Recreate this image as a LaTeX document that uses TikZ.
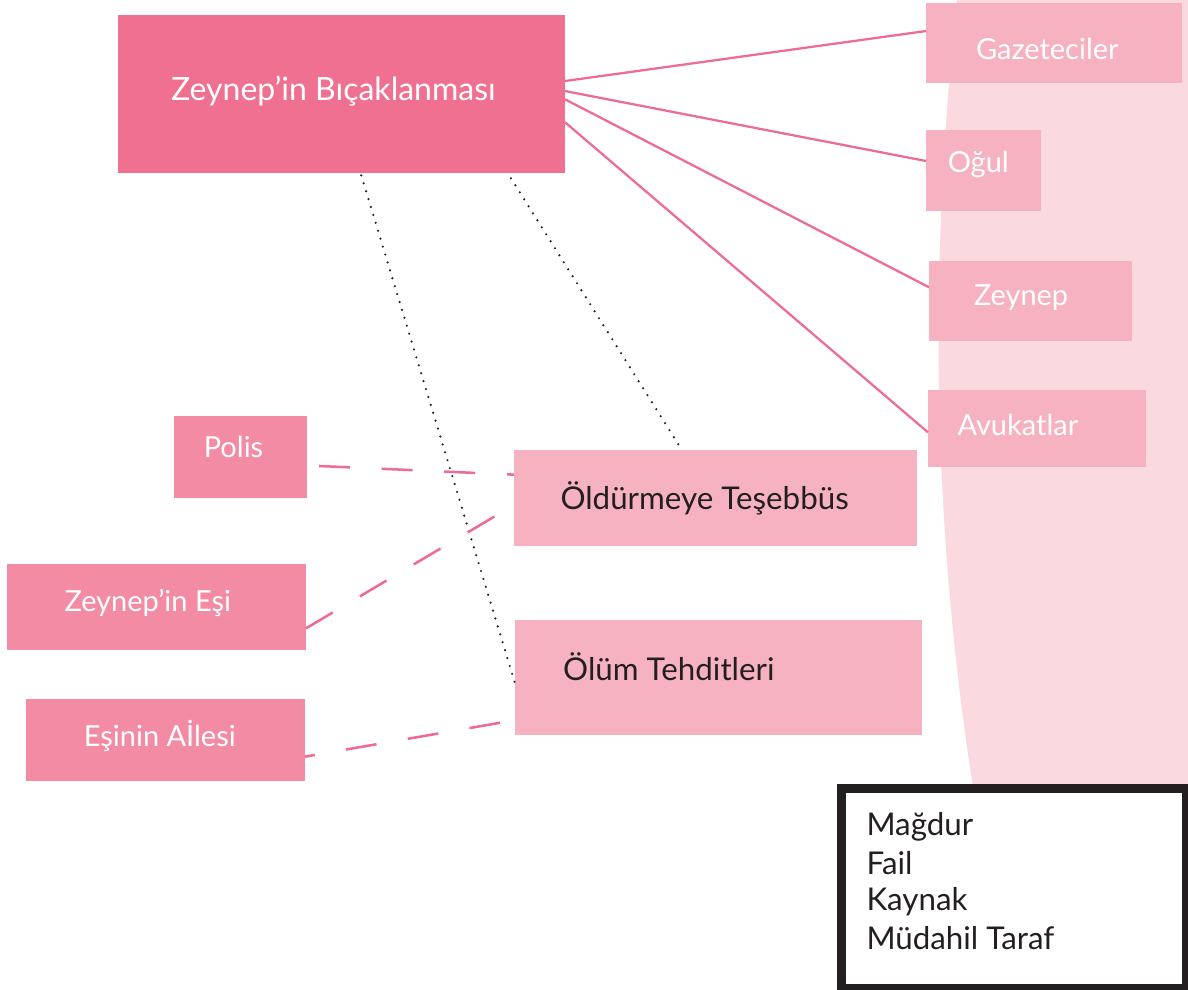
\documentclass[tikz,border=0pt]{standalone}
\usepackage{fontspec}
\setmainfont{Lato}

\definecolor{mainpink}{RGB}{240,112,146}
\definecolor{softpink}{RGB}{246,178,193}
\definecolor{rosepink}{RGB}{242,139,163}
\definecolor{palepink}{RGB}{250,217,223}
\definecolor{linkpink}{RGB}{238,108,148}
\definecolor{inkgray}{RGB}{35,31,32}

\tikzset{every picture/.style={line width=0.75pt}}
\tikzset{
	card/.style={inner sep=0pt, outer sep=0pt},
	whitetxt/.style={anchor=base west, inner sep=0pt, text=white, font=\fontsize{21.75}{26}\selectfont},
	darktxt/.style={anchor=base west, inner sep=0pt, text=inkgray, font=\fontsize{23.5}{28}\selectfont},
	link/.style={draw=linkpink, line width=1.7pt},
	dashlink/.style={draw=linkpink, line width=1.9pt, dash pattern=on 23.3pt off 23.7pt},
	dotlink/.style={draw=inkgray, line width=1.8pt, line cap=round, dash pattern=on 0pt off 6.2pt},
}

\begin{document}
\begin{tikzpicture}[x=0.75pt,y=0.75pt,yscale=-1]
			\useasboundingbox (0,0) rectangle (1188,989);
			% background
			\fill[palepink] (957,0) .. controls (930,250) and (930,520) .. (975,800) -- (1188,800) -- (1188,0) -- cycle;
			% event
			\node[card, fill=mainpink, minimum width=335.25pt, minimum height=118.3pt] (stab) at (341.5,93.85) {};
			\node[whitetxt, font=\fontsize{24}{28}\selectfont] (stabtxt) at (170.7,100.7) {Zeynep’in Bıçaklanması};
			% right side
			\node[card, fill=softpink, minimum width=191.8pt, minimum height=60pt] (press) at (1053.85,43.3) {};
			\node[whitetxt] (presstxt) at (975.5,59.3) {Gazeteciler};
			\node[card, fill=softpink, minimum width=86pt, minimum height=60.5pt] (son) at (983.35,170.35) {};
			\node[whitetxt] (sontxt) at (947.3,172.7) {Oğul};
			\node[card, fill=softpink, minimum width=152pt, minimum height=59.8pt] (zey) at (1030.35,300.85) {};
			\node[whitetxt] (zeytxt) at (973.3,305) {Zeynep};
			\node[card, fill=softpink, minimum width=163.5pt, minimum height=57.5pt] (lawyers) at (1037,428.35) {};
			\node[whitetxt] (lawyerstxt) at (957,435) {Avukatlar};
			% left side
			\node[card, fill=rosepink, minimum width=99.75pt, minimum height=61.3pt] (police) at (240.5,456.85) {};
			\node[whitetxt] (policetxt) at (203.3,457.3) {Polis};
			\node[card, fill=rosepink, minimum width=224pt, minimum height=64.5pt] (spouse) at (156.65,607) {};
			\node[whitetxt] (spousetxt) at (64,611) {Zeynep’in Eşi};
			\node[card, fill=rosepink, minimum width=209.25pt, minimum height=61.3pt] (family) at (165.5,739.85) {};
			\node[whitetxt] (familytxt) at (83.3,746.7) {Eşinin Aİlesi};
			% middle
			\node[card, fill=softpink, minimum width=302.25pt, minimum height=71.8pt] (attempt) at (715.5,497.85) {};
			\node[darktxt] (attempttxt) at (560,509.3) {Öldürmeye Teşebbüs};
			\node[card, fill=softpink, minimum width=305.25pt, minimum height=85.8pt] (threat) at (718.5,677.5) {};
			\node[darktxt] (threattxt) at (562.7,680) {Ölüm Tehditleri};
			% connectors (yshift runs downwards here)
			\draw[link] ([yshift=-9.6pt]stab.east) -- ([yshift=-9.2pt]press.west);
			\draw[link] ([yshift=-2.1pt]stab.east) -- ([yshift=-7pt]son.west);
			\draw[link] ([yshift=4.1pt]stab.east) -- ([yshift=-10.2pt]zey.west);
			\draw[link] ([yshift=21.3pt]stab.east) -- ([yshift=3pt]lawyers.west);
			\draw[dotlink] ([xshift=14.85pt,yshift=2pt]stab.south) -- ([yshift=4.4pt]threat.west);
			\draw[dotlink] ([xshift=127.1pt,yshift=4.2pt]stab.south) -- ([xshift=-27.2pt,yshift=-3.2pt]attempt.north);
			\draw[dashlink, shorten <=9pt] ([yshift=6.45pt]police.east) -- ([yshift=-17.4pt]attempt.west);
			\draw[dashlink] ([yshift=16pt]spouse.east) -- ([yshift=5.3pt]attempt.west);
			\draw[dashlink, shorten <=11.4pt] ([yshift=32pt]threat.west) -- ([yshift=12.6pt]family.east);
			% legend
			\node[card, draw=inkgray, line width=6.75pt, fill=white, minimum width=258.3pt, minimum height=150pt] (legend) at (1014,888.8) {};
			\node[darktxt] (leg1) at (866,835.7) {Mağdur};
			\node[darktxt] (leg2) at (866,874.3) {Fail};
			\node[darktxt] (leg3) at (866,910.7) {Kaynak};
			\node[darktxt] (leg4) at (866,949) {Müdahil Taraf};
		\end{tikzpicture}
\end{document}
